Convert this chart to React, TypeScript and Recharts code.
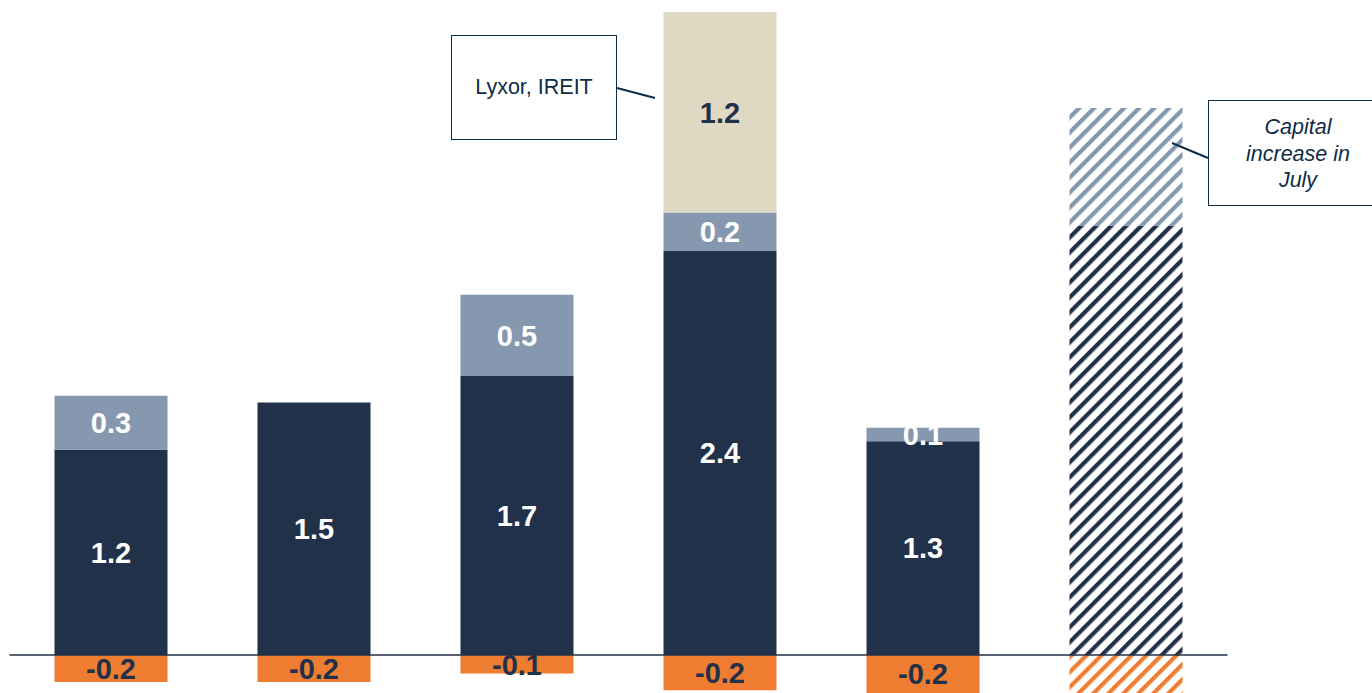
import { BarChart, Bar, XAxis, YAxis, LabelList, ReferenceLine } from 'recharts'

const categories = ['A', 'B', 'C', 'D', 'E', 'F']
const core =       [1.22, 1.5, 1.66, 2.4, 1.27, null]
const addOn =      [0.32, null, 0.48, 0.23, 0.08, null]
const acquired =   [null, null, null, 1.19, null, null]
const outflow =    [-0.16, -0.16, -0.11, -0.21, -0.23, null]
const planCore =   [null, null, null, null, null, 2.55]
const planAddOn =  [null, null, null, null, null, 0.7]
const planOut =    [null, null, null, null, null, -0.23]

const data = categories.map((name, i) => ({
  name,
  core: core[i],
  addOn: addOn[i],
  acquired: acquired[i],
  outflow: outflow[i],
  planCore: planCore[i],
  planAddOn: planAddOn[i],
  planOut: planOut[i],
}))

const NAVY = '#22314a'
const STEEL = '#8598b0'
const TAN = '#dfd9c3'
const ORANGE = '#ee7d31'
const TEXT = '#0f2c45'

const fmt = (v: any) => (v == null ? '' : Number(v).toFixed(1))
const labelStyle = { fontFamily: 'Arial, "Liberation Sans", sans-serif', fontSize: 29, fontWeight: 700 }

const stripe = (id: string, color: string) => (
  <pattern id={id} width="10.6" height="10.6" patternUnits="userSpaceOnUse" patternTransform="rotate(45)">
    <rect x="0" y="0" width="4.2" height="10.6" fill={color} />
  </pattern>
)

export default function App() {
  return (
    <div style={{ position: 'absolute', left: 0, top: 0, width: 1372, height: 693, background: '#fff', overflow: 'hidden' }}>
      <BarChart
        width={1372}
        height={693}
        data={data}
        stackOffset="sign"
        barSize={113}
        margin={{ top: 0, right: 144.5, bottom: 0, left: 9.5 }}
      >
        <defs>
          {stripe('hNavy', NAVY)}
          {stripe('hSteel', STEEL)}
          {stripe('hOrange', ORANGE)}
        </defs>
        <XAxis dataKey="name" hide />
        <YAxis hide domain={[-0.226, 3.892]} allowDataOverflow />
        <Bar dataKey="core" stackId="s" fill={NAVY} isAnimationActive={false}>
          <LabelList dataKey="core" position="center" formatter={fmt} fill="#fff" style={labelStyle} />
        </Bar>
        <Bar dataKey="addOn" stackId="s" fill={STEEL} isAnimationActive={false}>
          <LabelList dataKey="addOn" position="center" formatter={fmt} fill="#fff" style={labelStyle} />
        </Bar>
        <Bar dataKey="acquired" stackId="s" fill={TAN} isAnimationActive={false}>
          <LabelList dataKey="acquired" position="center" formatter={fmt} fill={NAVY} style={labelStyle} />
        </Bar>
        <Bar dataKey="outflow" stackId="s" fill={ORANGE} isAnimationActive={false}>
          <LabelList dataKey="outflow" position="center" formatter={fmt} fill={NAVY} style={labelStyle} />
        </Bar>
        <Bar dataKey="planCore" stackId="s" fill="url(#hNavy)" isAnimationActive={false} />
        <Bar dataKey="planAddOn" stackId="s" fill="url(#hSteel)" isAnimationActive={false} />
        <Bar dataKey="planOut" stackId="s" fill="url(#hOrange)" isAnimationActive={false} />
        <ReferenceLine y={0} stroke={NAVY} strokeWidth={1.5} />
      </BarChart>

      <svg width={1372} height={693} style={{ position: 'absolute', left: 0, top: 0, pointerEvents: 'none' }}>
        <line x1={617} y1={88} x2={655} y2={98} stroke={TEXT} strokeWidth={2} />
        <line x1={1172} y1={143} x2={1208} y2={158} stroke={TEXT} strokeWidth={2} />
      </svg>

      <div style={{
        position: 'absolute', left: 451, top: 35, width: 166, height: 105, boxSizing: 'border-box',
        border: `1.5px solid ${TEXT}`, background: '#fff', display: 'flex', alignItems: 'center',
        justifyContent: 'center', fontFamily: 'Arial, "Liberation Sans", sans-serif', fontSize: 21.5, color: TEXT,
      }}>
        Lyxor, IREIT
      </div>
      <div style={{
        position: 'absolute', left: 1208, top: 100, width: 180, height: 106, boxSizing: 'border-box',
        border: `1.5px solid ${TEXT}`, background: '#fff', fontFamily: 'Arial, "Liberation Sans", sans-serif',
        fontSize: 21.5, fontStyle: 'italic', color: TEXT, lineHeight: '26.5px', paddingTop: 13,
        textAlign: 'center',
      }}>
        <div style={{ width: 178 }}>Capital<br />increase in<br />July</div>
      </div>
    </div>
  )
}
